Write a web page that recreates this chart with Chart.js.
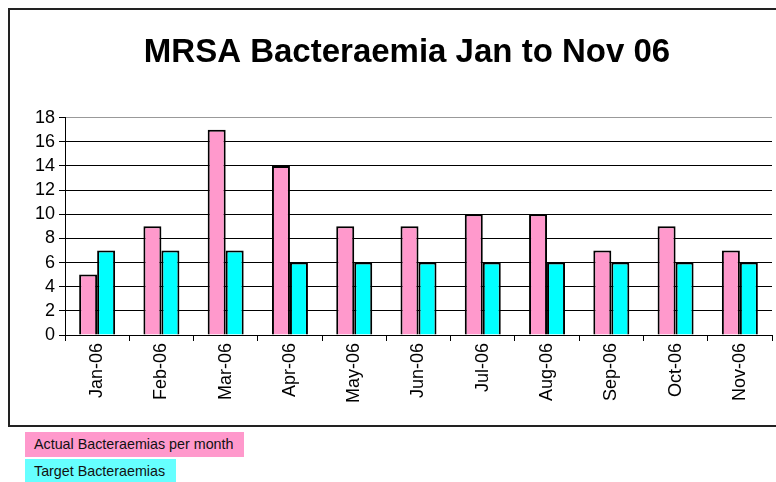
<!DOCTYPE html>
<html>
<head>
<meta charset="utf-8">
<script src="https://cdn.jsdelivr.net/npm/chart.js@4"></script>
<style>
    body { margin: 0; width: 776px; height: 482px; overflow: hidden; background: #fff; font-family: "Liberation Sans", Arial, sans-serif; position: relative; }
    #frame { position: absolute; left: 8px; top: 8px; width: 796px; height: 415px; border: 2px solid #222; }
    #frame canvas { display: block; }
    .key { position: absolute; left: 25px; height: 25px; line-height: 25px; font-size: 14.3px; padding: 0 11px 0 9px; color: #111; white-space: nowrap; }
</style>
</head>
<body>
<div id="frame"><canvas id="chart" width="796" height="415"></canvas></div>
<div id="keys"></div>

<script>
/* ============================================================
   Data
============================================================ */
const months = ["Jan-06", "Feb-06", "Mar-06", "Apr-06", "May-06", "Jun-06",
                "Jul-06", "Aug-06", "Sep-06", "Oct-06", "Nov-06"];
const actual = [5, 9, 17, 14, 9, 9, 10, 10, 7, 9, 7];
const target = [7, 7, 7, 6, 6, 6, 6, 6, 6, 6, 6];
const seriesNames = ["Actual Bacteraemias per month", "Target Bacteraemias"];
const yTicks = [0, 2, 4, 6, 8, 10, 12, 14, 16, 18];

const FONT = "'Liberation Sans', Arial, sans-serif";

/* ============================================================
   Legend (sits below the chart frame)
============================================================ */
const keys = document.getElementById("keys");
const keyColours = ["#ff99cc", "#66ffff"];
const keyTops = [432, 459];
seriesNames.forEach((name, i) => {
    const d = document.createElement("div");
    d.className = "key";
    d.style.top = keyTops[i] + "px";
    d.style.background = keyColours[i];
    d.textContent = name;
    keys.appendChild(d);
});

/* ============================================================
   Chart
============================================================ */
const ctx = document.getElementById("chart").getContext("2d");

new Chart(ctx, {
    type: "bar",
    data: {
        labels: months,
        datasets: [
            {
                label: seriesNames[0],
                data: actual,
                backgroundColor: "#ff99cc",
                borderColor: "#000",
                borderWidth: 2,
                categoryPercentage: 0.56,
                barPercentage: 1
            },
            {
                label: seriesNames[1],
                data: target,
                backgroundColor: "#00ffff",
                borderColor: "#000",
                borderWidth: 2,
                categoryPercentage: 0.56,
                barPercentage: 1
            }
        ]
    },
    options: {
        responsive: false,
        animation: false,
        devicePixelRatio: 1,
        layout: { padding: { left: 0, right: 2, top: 0, bottom: 0 } },
        plugins: {
            legend: { display: false },
            tooltip: { enabled: false },
            title: {
                display: true,
                text: "MRSA Bacteraemia Jan to Nov 06",
                color: "#000",
                font: { family: FONT, size: 33, weight: "bold" },
                padding: { top: 23, bottom: 45 }
            }
        },
        scales: {
            x: {
                grid: {
                    offset: true,
                    drawOnChartArea: true,
                    color: c => c.index === months.length ? "#999" : "rgba(0,0,0,0)",
                    tickColor: "#000",
                    tickLength: 6
                },
                border: { display: true, color: "#000" },
                ticks: {
                    color: "#000",
                    font: { family: FONT, size: 18 },
                    maxRotation: 90,
                    minRotation: 90,
                    padding: 2
                },
                afterFit: s => { s.height = 90; }
            },
            y: {
                min: yTicks[0],
                max: yTicks[yTicks.length - 1],
                afterBuildTicks: s => { s.ticks = yTicks.map(v => ({ value: v })); },
                grid: {
                    color: c => c.tick && c.tick.value === 18 ? "#999" : "#000",
                    tickColor: "#000",
                    tickLength: 6
                },
                border: { display: true, color: "#000" },
                ticks: {
                    autoSkip: false,
                    color: "#000",
                    font: { family: FONT, size: 18 },
                    padding: 4
                },
                afterFit: s => { s.width = 55; }
            },
            // empty spacer on the right so the title stays centred on the whole frame
            spacer: {
                type: "linear",
                position: "right",
                display: true,
                grid: { display: false },
                border: { display: false },
                ticks: { display: false },
                afterFit: s => { s.width = 32; }
            }
        }
    }
});
</script>
</body>
</html>
